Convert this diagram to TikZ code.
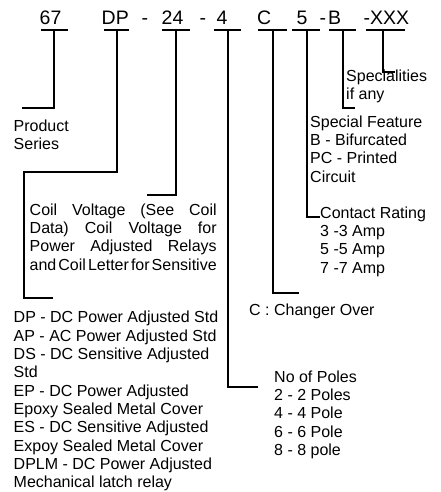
\documentclass[tikz,border=0pt]{standalone}
\usepackage{fontspec}
\setmainfont{Liberation Sans}
\begin{document}
\begin{tikzpicture}[x=1pt,y=-1pt,
  bar/.style={line width=2.9pt},
  conn/.style={line width=2.9pt, line join=miter},
  code/.style={font=\fontsize{19.5}{21}\selectfont, inner sep=0pt, anchor=base west},
  txt/.style={font=\fontsize{16}{18.33}\selectfont, inner sep=0pt, anchor=north west, align=left}]
\useasboundingbox[fill=white] (0,0) rectangle (441,492);
% top code
\node[code] (c67) at (39.5,25) {67};
\node[code] (cDP) at (101.5,25) {DP};
\node[code] (d1) at (141.5,25) {-};
\node[code] (c24) at (161.5,25) {24};
\node[code] (d2) at (199.5,25) {-};
\node[code] (c4) at (216.5,25) {4};
\node[code] (cC) at (257,25) {C};
\node[code] (c5) at (296.5,25) {5};
\node[code] (d3) at (319.5,25) {-};
\node[code] (cB) at (328,25) {B};
\node[code] (cX) at (363.5,25) {-XXX};
% bars
\draw[bar] (41,30) -- (68,30);
\draw[bar] (104,30) -- (129,30);
\draw[bar] (162,30) -- (190,30);
\draw[bar] (214,30) -- (241,30);
\draw[bar] (258,30) -- (287,30);
\draw[bar] (292,30) -- (320,30);
\draw[bar] (329,30) -- (356,30);
\draw[bar] (366,30) -- (405,30);
% stem tops
\coordinate (s67) at (54,30);
\coordinate (sDP) at (117,30);
\coordinate (s24) at (176,30);
\coordinate (s4) at (228,30);
\coordinate (sC) at (273,30);
\coordinate (s5) at (307,30);
\coordinate (sB) at (343,30);
\coordinate (sX) at (383,30);
% ends
\coordinate (e67) at (22,108);
\coordinate (kDP) at (24,172);
\coordinate (eDP) at (53,298);
\coordinate (e24) at (147,195);
\coordinate (e4) at (258,387);
\coordinate (eC) at (299,293);
\coordinate (e5) at (320,217);
\coordinate (eB) at (355,108);
\coordinate (eX) at (395,72);
% connectors
\draw[conn] (s67) |- (e67);
\draw[conn] (sDP) |- (kDP) |- (eDP);
\draw[conn] (s24) |- (e24);
\draw[conn] (s4) |- (e4);
\draw[conn] (sC) |- (eC);
\draw[conn] (s5) |- (e5);
\draw[conn] (sB) |- (eB);
\draw[conn] (sX) |- (eX);
% texts
\node[txt] (tprod) at (13.5,119.5) {Product\\Series};
\node[txt] (tcoil) at (29.5,203.5) {\makebox[187pt][s]{Coil Voltage (See Coil}\\
  \makebox[187pt][s]{Data) Coil Voltage for}\\
  \makebox[187pt][s]{Power Adjusted Relays}\\
  \makebox[187pt][s]{\spaceskip=1pt plus 20pt\relax and Coil Letter for Sensitive}};
\node[txt] (tdp) at (13.5,311.2) {DP - DC Power Adjusted Std\\
  AP - AC Power Adjusted Std\\
  DS - DC Sensitive Adjusted\\
  Std\\
  EP - DC Power Adjusted\\
  Epoxy Sealed Metal Cover\\
  ES - DC Sensitive Adjusted\\
  Expoy Sealed Metal Cover\\
  DPLM - DC Power Adjusted\\
  Mechanical latch relay};
\node[txt] (tC) at (249,303.5) {C : Changer Over};
\node[txt] (tpoles) at (274,370.5) {No of Poles\\
  2 - 2 Poles\\
  4 - 4 Pole\\
  6 - 6 Pole\\
  8 - 8 pole};
\node[txt] (tcr) at (320,206.5) {Contact Rating\\
  3 -3 Amp\\
  5 -5 Amp\\
  7 -7 Amp};
\node[txt] (tsf) at (310,115.5) {Special Feature\\
  B - Bifurcated\\
  PC - Printed\\
  Circuit};
\node[txt] (tsp) at (346,69.5) {Specialities\\
  if any};
\end{tikzpicture}
\end{document}
